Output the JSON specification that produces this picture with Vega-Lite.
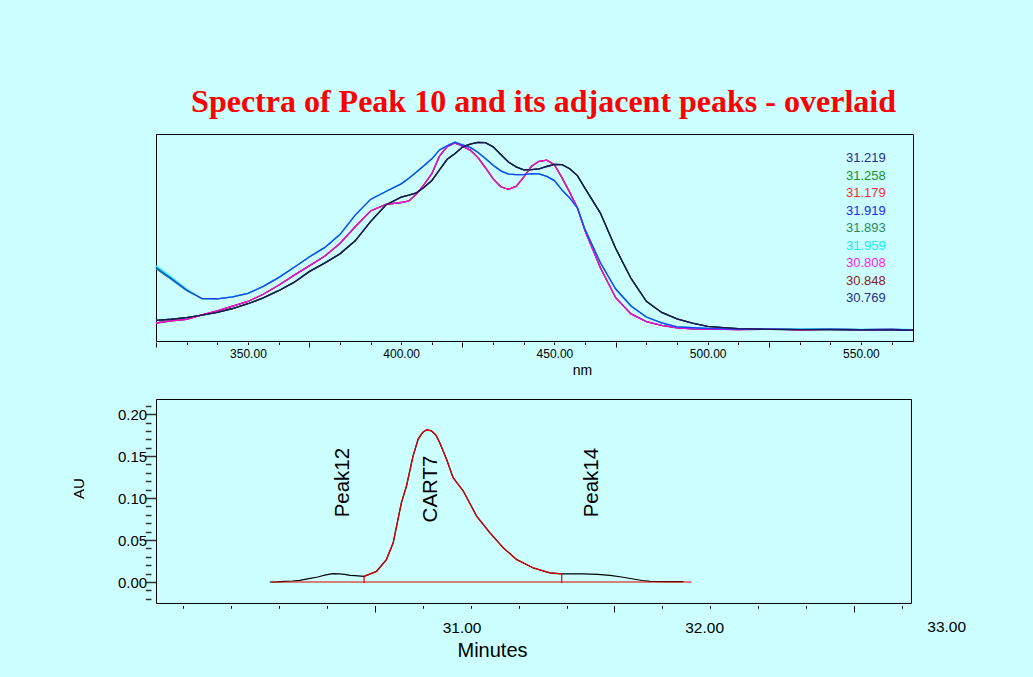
{
  "$schema": "https://vega.github.io/schema/vega-lite/v6.json",
  "background": "#CCFFFF",
  "padding": {"left": 70, "top": 85, "right": 70, "bottom": 17},
  "config": {
    "font": "Liberation Sans",
    "view": {"stroke": "#000000", "strokeWidth": 1},
    "axis": {"grid": false, "domain": false, "labelColor": "#000000", "titleColor": "#000000", "tickColor": "#000000", "titleFontWeight": "normal"}
  },
  "title": {"text": "Spectra of Peak 10 and its adjacent peaks - overlaid", "font": "Liberation Serif", "fontSize": 32, "fontWeight": "bold", "color": "#FF0000", "anchor": "middle", "dx": 25, "offset": 15},
  "spacing": 20,
  "vconcat": [
    {
      "width": 757,
      "height": 207,
      "data": {"values": [
        {"n":320,"s31219":0.100,"s31258":0.100,"s31179":0.087,"s31919":0.355,"s31893":0.349,"s31959":0.363,"s30808":0.087,"s30848":0.087,"s30769":0.100},
        {"n":325,"s31219":0.105,"s31258":0.105,"s31179":0.097,"s31919":0.302,"s31893":0.297,"s31959":0.309,"s30808":0.097,"s30848":0.097,"s30769":0.105},
        {"n":330,"s31219":0.113,"s31258":0.113,"s31179":0.104,"s31919":0.246,"s31893":0.243,"s31959":0.250,"s30808":0.104,"s30848":0.104,"s30769":0.113},
        {"n":335,"s31219":0.125,"s31258":0.125,"s31179":0.126,"s31919":0.205,"s31893":0.205,"s31959":0.205,"s30808":0.126,"s30848":0.126,"s30769":0.125},
        {"n":340,"s31219":0.138,"s31258":0.138,"s31179":0.146,"s31919":0.204,"s31893":0.204,"s31959":0.204,"s30808":0.146,"s30848":0.146,"s30769":0.138},
        {"n":345,"s31219":0.157,"s31258":0.157,"s31179":0.169,"s31919":0.213,"s31893":0.213,"s31959":0.213,"s30808":0.169,"s30848":0.169,"s30769":0.157},
        {"n":350,"s31219":0.180,"s31258":0.180,"s31179":0.191,"s31919":0.230,"s31893":0.230,"s31959":0.230,"s30808":0.191,"s30848":0.191,"s30769":0.180},
        {"n":355,"s31219":0.208,"s31258":0.208,"s31179":0.226,"s31919":0.264,"s31893":0.264,"s31959":0.264,"s30808":0.226,"s30848":0.226,"s30769":0.208},
        {"n":360,"s31219":0.243,"s31258":0.243,"s31179":0.269,"s31919":0.306,"s31893":0.306,"s31959":0.306,"s30808":0.269,"s30848":0.269,"s30769":0.243},
        {"n":365,"s31219":0.283,"s31258":0.283,"s31179":0.317,"s31919":0.355,"s31893":0.355,"s31959":0.355,"s30808":0.317,"s30848":0.317,"s30769":0.283},
        {"n":370,"s31219":0.335,"s31258":0.335,"s31179":0.363,"s31919":0.406,"s31893":0.406,"s31959":0.406,"s30808":0.363,"s30848":0.363,"s30769":0.335},
        {"n":375,"s31219":0.376,"s31258":0.376,"s31179":0.409,"s31919":0.451,"s31893":0.451,"s31959":0.451,"s30808":0.409,"s30848":0.409,"s30769":0.376},
        {"n":380,"s31219":0.421,"s31258":0.421,"s31179":0.471,"s31919":0.514,"s31893":0.514,"s31959":0.514,"s30808":0.471,"s30848":0.471,"s30769":0.421},
        {"n":385,"s31219":0.484,"s31258":0.484,"s31179":0.552,"s31919":0.608,"s31893":0.608,"s31959":0.608,"s30808":0.552,"s30848":0.552,"s30769":0.484},
        {"n":390,"s31219":0.577,"s31258":0.577,"s31179":0.628,"s31919":0.684,"s31893":0.684,"s31959":0.684,"s30808":0.628,"s30848":0.628,"s30769":0.577},
        {"n":395,"s31219":0.657,"s31258":0.657,"s31179":0.660,"s31919":0.722,"s31893":0.722,"s31959":0.722,"s30808":0.660,"s30848":0.660,"s30769":0.657},
        {"n":400,"s31219":0.695,"s31258":0.695,"s31179":0.669,"s31919":0.759,"s31893":0.759,"s31959":0.759,"s30808":0.669,"s30848":0.669,"s30769":0.695},
        {"n":402.5,"s31219":0.705,"s31258":0.705,"s31179":0.677,"s31919":0.786,"s31893":0.786,"s31959":0.786,"s30808":0.677,"s30848":0.677,"s30769":0.705},
        {"n":405,"s31219":0.716,"s31258":0.716,"s31179":0.710,"s31919":0.816,"s31893":0.816,"s31959":0.816,"s30808":0.710,"s30848":0.710,"s30769":0.716},
        {"n":407.5,"s31219":0.743,"s31258":0.743,"s31179":0.757,"s31919":0.848,"s31893":0.848,"s31959":0.848,"s30808":0.757,"s30848":0.757,"s30769":0.743},
        {"n":410,"s31219":0.775,"s31258":0.775,"s31179":0.808,"s31919":0.880,"s31893":0.880,"s31959":0.880,"s30808":0.808,"s30848":0.808,"s30769":0.775},
        {"n":412.5,"s31219":0.827,"s31258":0.827,"s31179":0.893,"s31919":0.923,"s31893":0.923,"s31959":0.923,"s30808":0.893,"s30848":0.893,"s30769":0.827},
        {"n":415,"s31219":0.878,"s31258":0.878,"s31179":0.939,"s31919":0.943,"s31893":0.943,"s31959":0.943,"s30808":0.939,"s30848":0.939,"s30769":0.878},
        {"n":417.5,"s31219":0.905,"s31258":0.905,"s31179":0.957,"s31919":0.960,"s31893":0.960,"s31959":0.960,"s30808":0.957,"s30848":0.957,"s30769":0.905},
        {"n":420,"s31219":0.937,"s31258":0.937,"s31179":0.941,"s31919":0.947,"s31893":0.947,"s31959":0.947,"s30808":0.941,"s30848":0.941,"s30769":0.937},
        {"n":422.5,"s31219":0.951,"s31258":0.951,"s31179":0.922,"s31919":0.935,"s31893":0.935,"s31959":0.935,"s30808":0.922,"s30848":0.922,"s30769":0.951},
        {"n":425,"s31219":0.960,"s31258":0.960,"s31179":0.887,"s31919":0.912,"s31893":0.912,"s31959":0.912,"s30808":0.887,"s30848":0.887,"s30769":0.960},
        {"n":427.5,"s31219":0.958,"s31258":0.958,"s31179":0.837,"s31919":0.882,"s31893":0.882,"s31959":0.882,"s30808":0.837,"s30848":0.837,"s30769":0.958},
        {"n":430,"s31219":0.938,"s31258":0.938,"s31179":0.783,"s31919":0.849,"s31893":0.849,"s31959":0.849,"s30808":0.783,"s30848":0.783,"s30769":0.938},
        {"n":432.5,"s31219":0.901,"s31258":0.901,"s31179":0.745,"s31919":0.822,"s31893":0.822,"s31959":0.822,"s30808":0.745,"s30848":0.745,"s30769":0.901},
        {"n":435,"s31219":0.865,"s31258":0.865,"s31179":0.733,"s31919":0.806,"s31893":0.806,"s31959":0.806,"s30808":0.733,"s30848":0.733,"s30769":0.865},
        {"n":437.5,"s31219":0.841,"s31258":0.841,"s31179":0.747,"s31919":0.804,"s31893":0.804,"s31959":0.804,"s30808":0.747,"s30848":0.747,"s30769":0.841},
        {"n":440,"s31219":0.827,"s31258":0.827,"s31179":0.792,"s31919":0.804,"s31893":0.804,"s31959":0.804,"s30808":0.792,"s30848":0.792,"s30769":0.827},
        {"n":442.5,"s31219":0.828,"s31258":0.828,"s31179":0.844,"s31919":0.809,"s31893":0.809,"s31959":0.809,"s30808":0.844,"s30848":0.844,"s30769":0.828},
        {"n":445,"s31219":0.832,"s31258":0.832,"s31179":0.868,"s31919":0.807,"s31893":0.807,"s31959":0.807,"s30808":0.868,"s30848":0.868,"s30769":0.832},
        {"n":447.5,"s31219":0.843,"s31258":0.843,"s31179":0.874,"s31919":0.795,"s31893":0.795,"s31959":0.795,"s30808":0.874,"s30848":0.874,"s30769":0.843},
        {"n":450,"s31219":0.853,"s31258":0.853,"s31179":0.852,"s31919":0.775,"s31893":0.775,"s31959":0.775,"s30808":0.852,"s30848":0.852,"s30769":0.853},
        {"n":452.5,"s31219":0.852,"s31258":0.852,"s31179":0.788,"s31919":0.729,"s31893":0.729,"s31959":0.729,"s30808":0.788,"s30848":0.788,"s30769":0.852},
        {"n":455,"s31219":0.832,"s31258":0.832,"s31179":0.718,"s31919":0.691,"s31893":0.691,"s31959":0.691,"s30808":0.718,"s30848":0.718,"s30769":0.832},
        {"n":457.5,"s31219":0.799,"s31258":0.799,"s31179":0.643,"s31919":0.643,"s31893":0.643,"s31959":0.643,"s30808":0.643,"s30848":0.643,"s30769":0.799},
        {"n":460,"s31219":0.737,"s31258":0.737,"s31179":0.532,"s31919":0.538,"s31893":0.538,"s31959":0.538,"s30808":0.532,"s30848":0.532,"s30769":0.737},
        {"n":465,"s31219":0.618,"s31258":0.618,"s31179":0.354,"s31919":0.378,"s31893":0.378,"s31959":0.378,"s30808":0.354,"s30848":0.354,"s30769":0.618},
        {"n":470,"s31219":0.447,"s31258":0.447,"s31179":0.209,"s31919":0.251,"s31893":0.251,"s31959":0.251,"s30808":0.209,"s30848":0.209,"s30769":0.447},
        {"n":475,"s31219":0.302,"s31258":0.302,"s31179":0.131,"s31919":0.169,"s31893":0.169,"s31959":0.169,"s30808":0.131,"s30848":0.131,"s30769":0.302},
        {"n":480,"s31219":0.192,"s31258":0.192,"s31179":0.094,"s31919":0.116,"s31893":0.116,"s31959":0.116,"s30808":0.094,"s30848":0.094,"s30769":0.192},
        {"n":485,"s31219":0.138,"s31258":0.138,"s31179":0.076,"s31919":0.088,"s31893":0.088,"s31959":0.088,"s30808":0.076,"s30848":0.076,"s30769":0.138},
        {"n":490,"s31219":0.107,"s31258":0.107,"s31179":0.064,"s31919":0.068,"s31893":0.068,"s31959":0.068,"s30808":0.064,"s30848":0.064,"s30769":0.107},
        {"n":495,"s31219":0.086,"s31258":0.086,"s31179":0.059,"s31919":0.064,"s31893":0.064,"s31959":0.064,"s30808":0.059,"s30848":0.059,"s30769":0.086},
        {"n":500,"s31219":0.071,"s31258":0.071,"s31179":0.057,"s31919":0.061,"s31893":0.061,"s31959":0.061,"s30808":0.057,"s30848":0.057,"s30769":0.071},
        {"n":505,"s31219":0.065,"s31258":0.065,"s31179":0.058,"s31919":0.059,"s31893":0.059,"s31959":0.060,"s30808":0.056,"s30848":0.056,"s30769":0.065},
        {"n":510,"s31219":0.060,"s31258":0.060,"s31179":0.055,"s31919":0.058,"s31893":0.058,"s31959":0.058,"s30808":0.055,"s30848":0.055,"s30769":0.060},
        {"n":520,"s31219":0.056,"s31258":0.056,"s31179":0.059,"s31919":0.057,"s31893":0.057,"s31959":0.058,"s30808":0.057,"s30848":0.057,"s30769":0.056},
        {"n":530,"s31219":0.055,"s31258":0.055,"s31179":0.054,"s31919":0.056,"s31893":0.056,"s31959":0.057,"s30808":0.054,"s30848":0.055,"s30769":0.055},
        {"n":540,"s31219":0.055,"s31258":0.055,"s31179":0.057,"s31919":0.057,"s31893":0.056,"s31959":0.058,"s30808":0.056,"s30848":0.056,"s30769":0.055},
        {"n":550,"s31219":0.054,"s31258":0.054,"s31179":0.055,"s31919":0.055,"s31893":0.055,"s31959":0.056,"s30808":0.055,"s30848":0.055,"s30769":0.054},
        {"n":560,"s31219":0.054,"s31258":0.054,"s31179":0.056,"s31919":0.056,"s31893":0.055,"s31959":0.057,"s30808":0.056,"s30848":0.056,"s30769":0.054},
        {"n":567,"s31219":0.053,"s31258":0.053,"s31179":0.054,"s31919":0.054,"s31893":0.054,"s31959":0.055,"s30808":0.054,"s30848":0.054,"s30769":0.053}
      ]},
      "transform": [{"fold": ["s31258","s31179","s30848","s31893","s31959","s31219","s30808","s31919","s30769"], "as": ["series","v"]}],
      "mark": {"type": "line", "strokeWidth": 1.3},
      "encoding": {
        "x": {"field": "n", "type": "quantitative",
          "scale": {"domain": [320, 567], "nice": false, "zero": false},
          "axis": {"values": [320,330,340,350,360,370,380,390,400,410,420,430,440,450,460,470,480,490,500,510,520,530,540,550,560],
            "tickSize": {"condition": {"test": "(datum.value - 320) % 50 == 0", "value": 5}, "value": 2.5},
            "tickWidth": 1, "offset": 1,
            "labelExpr": "datum.value % 50 == 0 ? format(datum.value, '.2f') : ''",
            "labelFontSize": 12, "labelPadding": 4, "labelFlush": false, "labelOverlap": false,
            "title": "nm", "titleFontSize": 14, "titleX": 426, "titleY": 28, "titleBaseline": "middle"}},
        "y": {"field": "v", "type": "quantitative", "scale": {"domain": [0, 1], "nice": false}, "axis": null},
        "color": {"field": "series", "type": "nominal",
          "scale": {"domain": ["s31219","s31258","s31179","s31919","s31893","s31959","s30808","s30848","s30769"],
                    "range": ["#26267A","#1E8C1E","#FF2020","#1F3CFF","#2E8B57","#00FFFF","#E614E0","#8B2020","#1A1A50"]},
          "legend": {"title": null, "orient": "none", "legendX": 677, "legendY": 17.5, "padding": 0,
            "symbolOpacity": 0, "symbolSize": 0, "symbolStrokeWidth": 0, "labelOffset": 0,
            "labelFontSize": 13, "rowPadding": 3.5,
            "labelExpr": "slice(datum.label, 1, 3) + '.' + slice(datum.label, 3)",
            "labelColor": {"expr": "datum.value == 's31258' ? '#1E8C1E' : datum.value == 's31179' ? '#FF2A2A' : datum.value == 's31919' ? '#2424FF' : datum.value == 's31893' ? '#2E8B57' : datum.value == 's31959' ? '#14F0F0' : datum.value == 's30808' ? '#FF1AFF' : datum.value == 's30848' ? '#8B2020' : '#2B2B8C'"}}}
      }
    },
    {
      "width": 755,
      "height": 204,
      "layer": [
        {
          "data": {"values": [
            {"t":30.209,"au":0},{"t":30.240,"au":0.0002},{"t":30.271,"au":0.0007},{"t":30.302,"au":0.0012},{"t":30.333,"au":0.002},
            {"t":30.370,"au":0.004},{"t":30.407,"au":0.006},{"t":30.440,"au":0.0085},{"t":30.469,"au":0.0099},{"t":30.495,"au":0.0097},
            {"t":30.518,"au":0.009},{"t":30.540,"au":0.008},{"t":30.560,"au":0.0075},{"t":30.598,"au":0.0067},
            {"t":30.649,"au":0.0126},{"t":30.690,"au":0.0267},{"t":30.718,"au":0.0467},{"t":30.732,"au":0.0667},{"t":30.752,"au":0.0946},
            {"t":30.773,"au":0.1146},{"t":30.800,"au":0.1502},{"t":30.821,"au":0.1702},{"t":30.839,"au":0.178},{"t":30.856,"au":0.1813},
            {"t":30.876,"au":0.1801},{"t":30.894,"au":0.175},{"t":30.910,"au":0.166},{"t":30.938,"au":0.1462},{"t":30.965,"au":0.1243},
            {"t":31.007,"au":0.1084},{"t":31.062,"au":0.0785},{"t":31.117,"au":0.0586},{"t":31.172,"au":0.0407},{"t":31.227,"au":0.0267},
            {"t":31.296,"au":0.0167},{"t":31.364,"au":0.0108},{"t":31.413,"au":0.0096},
            {"t":31.460,"au":0.0097},{"t":31.502,"au":0.0096},{"t":31.560,"au":0.009},{"t":31.612,"au":0.0079},{"t":31.660,"au":0.006},
            {"t":31.708,"au":0.0036},{"t":31.745,"au":0.0018},{"t":31.777,"au":0.0007},{"t":31.850,"au":0.0004},{"t":31.915,"au":0.0004}
          ], "name": "chrom"},
          "mark": {"type": "line", "color": "#000000", "strokeWidth": 1.2},
          "encoding": {
            "x": {"field": "t", "type": "quantitative", "scale": {"domain": [29.74, 32.853], "nice": false, "zero": false},
              "axis": {"orient": "bottom", "values": [29.851,30.049,30.246,30.444,30.642,30.839,31.037,31.235,31.433,31.63,31.828,32.026,32.224,32.421,32.619,32.817],
                "labels": false, "title": null, "offset": 2.5, "tickWidth": 1,
                "tickSize": {"condition": {"test": "datum.value == 30.642 || datum.value == 31.63 || datum.value == 32.619", "value": 6.5}, "value": 2.7}}},
            "y": {"field": "au", "type": "quantitative", "scale": {"domain": [-0.025, 0.218], "nice": false, "zero": false},
              "axis": {"orient": "left", "values": [-0.02,-0.01,0,0.01,0.02,0.03,0.04,0.05,0.06,0.07,0.08,0.09,0.1,0.11,0.12,0.13,0.14,0.15,0.16,0.17,0.18,0.19,0.2,0.21],
                "labels": false, "title": null, "offset": 10.7, "tickWidth": 1.5, "tickColor": "#333333",
                "tickSize": {"condition": {"test": "abs(round(datum.value * 100)) % 5 == 0", "value": -10.7}, "value": -5.7}}}
          }
        },
        {
          "data": {"name": "chrom"},
          "transform": [{"filter": "datum.t >= 30.598 && datum.t <= 31.413"}],
          "mark": {"type": "line", "color": "#E00000", "strokeWidth": 1.3},
          "encoding": {
            "x": {"field": "t", "type": "quantitative", "scale": {"domain": [29.74, 32.853], "nice": false, "zero": false},
              "axis": {"orient": "bottom", "values": [31, 32], "ticks": false, "format": ".2f", "labelFontSize": 15.5, "labelPadding": 17,
                "labelFlush": false, "labelOverlap": false, "title": "Minutes", "titleFontSize": 20, "titleX": 336, "titleY": 47, "titleBaseline": "middle"}},
            "y": {"field": "au", "type": "quantitative", "scale": {"domain": [-0.025, 0.218], "nice": false, "zero": false},
              "axis": {"orient": "left", "values": [0, 0.05, 0.1, 0.15, 0.2], "ticks": false, "format": ".2f", "labelFontSize": 15, "labelPadding": 9.4,
                "labelFlush": false, "labelOverlap": false, "title": "AU", "titleFontSize": 15, "titleAngle": 270, "titleX": -78, "titleY": 89, "titleBaseline": "middle"}}
          }
        },
        {
          "mark": {"type": "rule", "color": "#000000", "strokeWidth": 1},
          "encoding": {"y": {"datum": 0, "type": "quantitative", "axis": null}}
        },
        {
          "data": {"values": [{"t1": 30.217, "t2": 31.948, "au": 0}]},
          "mark": {"type": "rule", "color": "#E00000", "strokeWidth": 1.2},
          "encoding": {
            "x": {"field": "t1", "type": "quantitative", "axis": null},
            "x2": {"field": "t2"},
            "y": {"field": "au", "type": "quantitative", "axis": null}
          }
        },
        {
          "data": {"values": [{"t": 30.598, "lo": -0.0012, "hi": 0.0067}, {"t": 31.413, "lo": -0.0012, "hi": 0.0096}]},
          "mark": {"type": "rule", "color": "#E00000", "strokeWidth": 1.2},
          "encoding": {
            "x": {"field": "t", "type": "quantitative", "axis": null},
            "y": {"field": "lo", "type": "quantitative", "axis": null},
            "y2": {"field": "hi"}
          }
        },
        {
          "data": {"values": [{"t": 30.511, "au": 0.077, "name": "Peak12"}, {"t": 30.872, "au": 0.071, "name": "CART7"}, {"t": 31.537, "au": 0.077, "name": "Peak14"}]},
          "mark": {"type": "text", "angle": 270, "align": "left", "baseline": "middle", "fontSize": 20.5, "color": "#000000"},
          "encoding": {
            "x": {"field": "t", "type": "quantitative", "axis": null},
            "y": {"field": "au", "type": "quantitative", "axis": null},
            "text": {"field": "name"}
          }
        },
        {
          "data": {"values": [{"t": 33}]},
          "mark": {"type": "text", "align": "center", "baseline": "middle", "fontSize": 15.5, "color": "#000000"},
          "encoding": {
            "x": {"field": "t", "type": "quantitative", "axis": null},
            "y": {"datum": -0.0531, "type": "quantitative", "axis": null},
            "text": {"field": "t", "format": ".2f"}
          }
        }
      ],
      "resolve": {"axis": {"x": "independent", "y": "independent"}}
    }
  ]
}
